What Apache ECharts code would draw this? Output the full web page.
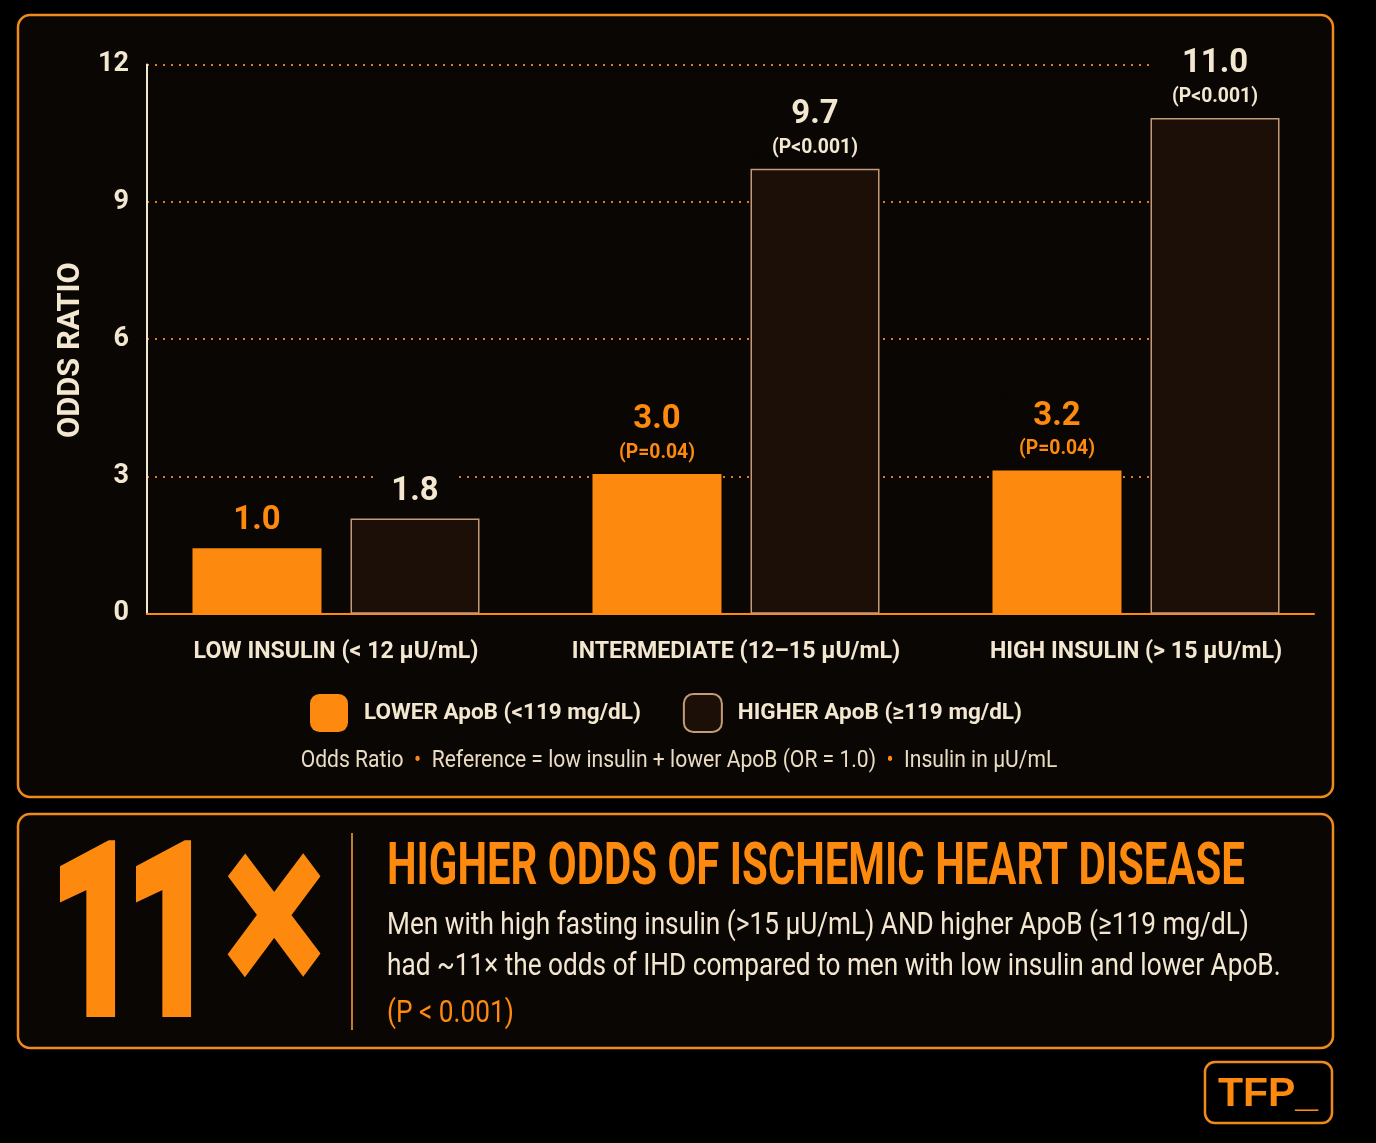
<!DOCTYPE html>
<html>
<head>
<meta charset="utf-8">
<script src="https://cdn.jsdelivr.net/npm/echarts@6/dist/echarts.min.js"></script>
<style>
  html, body { margin: 0; padding: 0; background: #000; }
  #chart { width: 1376px; height: 1143px; }
</style>
</head>
<body>
<div id="chart"></div>
<script>
// ---------- data ----------
const categories = ['LOW INSULIN (< 12 µU/mL)', 'INTERMEDIATE (12–15 µU/mL)', 'HIGH INSULIN (> 15 µU/mL)'];
const seriesNames = ['LOWER ApoB (<119 mg/dL)', 'HIGHER ApoB (≥119 mg/dL)'];
const lowerApoB = [1.43, 3.05, 3.13];      // bar heights as drawn
const higherApoB = [2.08, 9.72, 10.83];
const lowerLabels = ['1.0', '3.0', '3.2'];   // reported odds ratios
const higherLabels = ['1.8', '9.7', '11.0'];
const lowerP = ['', '(P=0.04)', '(P=0.04)'];
const higherP = ['', '(P<0.001)', '(P<0.001)'];
const yTicks = { min: 0, max: 12, interval: 3 };
const axisTitle = 'ODDS RATIO';
const footnote = ['Odds Ratio', 'Reference = low insulin + lower ApoB (OR = 1.0)', 'Insulin in µU/mL'];
const bigStat = ['1', '1', '×'];
const headline = 'HIGHER ODDS OF ISCHEMIC HEART DISEASE';
const bodyLines = ['Men with high fasting insulin (>15 µU/mL) AND higher ApoB (≥119 mg/dL)',
                   'had ~11× the odds of IHD compared to men with low insulin and lower ApoB.'];
const bodyP = '(P < 0.001)';
const brand = 'TFP_';

// ---------- styles ----------
const ORANGE = '#fd8a0e';
const CREAM = '#f3e7d0';
const DARK = '#1c0f07';
const PANEL = '#090604';
const FONT = "Roboto, 'Liberation Sans', sans-serif";
const SANS = "'Liberation Sans', Arial, sans-serif";

// size text to a target width using the installed font's metrics
const mctx = document.createElement('canvas').getContext('2d');
function fit(text, weight, family, target) {
  mctx.font = weight + ' 100px ' + family;
  return 100 * target / mctx.measureText(text).width;
}
const vSize = fit('9.7', 'bold', FONT, 43) * 1.1;
const pSize = fit('(P=0.04)', 'bold', FONT, 76);
const catSize = fit(categories[0], 'bold', FONT, 285);
const legSize = fit(seriesNames[0], 'bold', FONT, 277);
const nameSize = fit(axisTitle, 'bold', FONT, 176);
const tickSize = 27;
const footStr = footnote[0] + '  •  ' + footnote[1] + '  •  ' + footnote[2];
const footSize = fit(footStr, 'normal', FONT, 757);
const headSize = fit(headline, 'bold', FONT, 858);
const headScaleY = 42 / (headSize * 0.711);
const bodySize = fit(bodyLines[1], 'normal', FONT, 894);
const bodyScaleY = 1.2;

// big "1" glyph geometry
const ONE_STROKE = 10;
mctx.font = 'bold 100px ' + FONT;
const oneM = mctx.measureText('1');
const oneSize = (178 - ONE_STROKE) / oneM.actualBoundingBoxAscent * 100;
const oneW = (oneM.actualBoundingBoxLeft + oneM.actualBoundingBoxRight) * oneSize / 100;
const oneScaleX = (60 - ONE_STROKE) / oneW;
const oneShift = oneM.actualBoundingBoxLeft * oneSize / 100 * oneScaleX;

const chart = echarts.init(document.getElementById('chart'));

function labelFor(vals, ps, cls) {
  return function (p) {
    const v = vals[p.dataIndex], pl = ps[p.dataIndex];
    return pl ? '{v' + cls + '|' + v + '}\n{p' + cls + '|' + pl + '}' : '{s' + cls + '|' + v + '}';
  };
}
function vStyle(color, lh) { return { fontFamily: FONT, fontWeight: 'bold', fontSize: vSize, lineHeight: lh, color: color }; }
function pStyle(color) { return { fontFamily: FONT, fontWeight: 'bold', fontSize: pSize, lineHeight: 24, color: color }; }
const rich = {
  vo: vStyle(ORANGE, 42), vc: vStyle(CREAM, 42),
  so: vStyle(ORANGE, 36), sc: vStyle(CREAM, 36),
  po: pStyle(ORANGE), pc: pStyle(CREAM)
};
const baseLabel = { show: true, position: 'top', distance: 9, backgroundColor: PANEL, padding: [2, 18, 0, 18], rich: rich };

const gTop = 64.5, gH = 549.2;

const option = {
  backgroundColor: '#000',
  animation: false,
  grid: [
    { left: 136, right: 40, top: gTop, height: gH },
    { left: 147, right: 62, top: gTop, height: gH },
    { left: 147, right: 106, top: gTop, height: gH }
  ],
  xAxis: [
    { gridIndex: 0, type: 'category', data: categories,
      axisLine: { show: false }, axisTick: { show: false },
      axisLabel: { interval: 0, color: CREAM, fontFamily: FONT, fontWeight: 'bold', fontSize: catSize, lineHeight: 28, margin: 25 } },
    { gridIndex: 1, type: 'category', data: categories,
      axisLine: { show: true, lineStyle: { color: ORANGE, width: 2 } }, axisTick: { show: false }, axisLabel: { show: false } },
    { gridIndex: 2, type: 'category', data: categories, show: false }
  ],
  yAxis: [
    { gridIndex: 0, type: 'value', min: yTicks.min, max: yTicks.max, interval: yTicks.interval, show: false },
    { gridIndex: 1, type: 'value', min: yTicks.min, max: yTicks.max, interval: yTicks.interval,
      axisLine: { show: true, lineStyle: { color: CREAM, width: 2 } }, axisTick: { show: false },
      splitLine: { show: false },
      axisLabel: { color: CREAM, fontFamily: FONT, fontWeight: 'bold', fontSize: tickSize, margin: 18 },
      name: axisTitle, nameLocation: 'middle', nameRotate: 90, nameGap: 52,
      nameTextStyle: { color: CREAM, fontFamily: FONT, fontWeight: 'bold', fontSize: nameSize, padding: [0, 22, 0, 0] } },
    { gridIndex: 2, type: 'value', min: yTicks.min, max: yTicks.max, interval: yTicks.interval,
      axisLine: { show: false }, axisTick: { show: false }, axisLabel: { show: false },
      splitLine: { show: true, lineStyle: { color: '#e07d18', width: 2, type: [2, 6] } } }
  ],
  legend: {
    left: 305, top: 688, itemWidth: 38, itemHeight: 38, itemGap: 42, icon: 'roundRect',
    textStyle: { color: CREAM, fontFamily: FONT, fontWeight: 'bold', fontSize: legSize, padding: [0, 0, 0, 11] },
    data: seriesNames
  },
  series: [
    { name: seriesNames[0], type: 'bar', xAxisIndex: 0, yAxisIndex: 0, data: lowerApoB,
      barWidth: 129, barGap: '22.5%',
      itemStyle: { color: ORANGE },
      label: Object.assign({}, baseLabel, { formatter: labelFor(lowerLabels, lowerP, 'o') }) },
    { name: seriesNames[1], type: 'bar', xAxisIndex: 0, yAxisIndex: 0, data: higherApoB,
      barWidth: 129,
      itemStyle: { color: DARK, borderColor: '#c49b74', borderWidth: 1.5 },
      label: Object.assign({}, baseLabel, { formatter: labelFor(higherLabels, higherP, 'c') }) }
  ],
  graphic: [
    { type: 'rect', z: -10, shape: { x: 18, y: 15, width: 1315, height: 782, r: 12 },
      style: { fill: PANEL, stroke: '#f08a1c', lineWidth: 2.5 } },
    { type: 'rect', z: -10, shape: { x: 18, y: 814, width: 1315, height: 234, r: 12 },
      style: { fill: PANEL, stroke: '#f08a1c', lineWidth: 2.5 } },
    { type: 'rect', z: -10, shape: { x: 1205, y: 1062, width: 127, height: 61, r: 10 },
      style: { fill: '#000', stroke: '#f08a1c', lineWidth: 2.5 } },
    { type: 'text', x: 679, y: 758.5 + 0.09 * footSize * 1.13, scaleY: 1.13,
      style: { text: '{a|' + footnote[0] + '  }{b|•}{a|  ' + footnote[1] + '  }{b|•}{a|  ' + footnote[2] + '}',
        textAlign: 'center', textVerticalAlign: 'middle',
        rich: { a: { fontFamily: FONT, fontSize: footSize, fill: '#eadcc2', color: '#eadcc2' },
                b: { fontFamily: FONT, fontSize: footSize, fill: ORANGE, color: ORANGE } } } },
    // big stat
    { type: 'text', x: 58 + ONE_STROKE / 2 + oneShift, y: 933 + 0.09 * oneSize, scaleX: oneScaleX,
      style: { text: bigStat[0], font: 'bold ' + oneSize + 'px ' + FONT, fill: ORANGE, stroke: ORANGE, lineWidth: ONE_STROKE,
        textAlign: 'left', textVerticalAlign: 'middle' } },
    { type: 'text', x: 134 + ONE_STROKE / 2 + oneShift, y: 933 + 0.09 * oneSize, scaleX: oneScaleX,
      style: { text: bigStat[1], font: 'bold ' + oneSize + 'px ' + FONT, fill: ORANGE, stroke: ORANGE, lineWidth: ONE_STROKE,
        textAlign: 'left', textVerticalAlign: 'middle' } },
    { type: 'text', x: 274, y: 928, scaleX: 0.75,
      style: { text: bigStat[2], font: 'bold 225px ' + SANS, fill: ORANGE, stroke: ORANGE, lineWidth: 8,
        textAlign: 'center', textVerticalAlign: 'middle' } },
    { type: 'line', shape: { x1: 352, y1: 833, x2: 352, y2: 1030 }, style: { stroke: '#c47a26', lineWidth: 2 } },
    { type: 'text', x: 387, y: 864 + 0.09 * headSize * headScaleY, scaleY: headScaleY,
      style: { text: headline, font: 'bold ' + headSize + 'px ' + FONT, fill: ORANGE, textAlign: 'left', textVerticalAlign: 'middle' } },
    { type: 'text', x: 387, y: 923.5 + 0.09 * bodySize * bodyScaleY, scaleY: bodyScaleY,
      style: { text: bodyLines[0], font: bodySize + 'px ' + FONT, fill: CREAM, textAlign: 'left', textVerticalAlign: 'middle' } },
    { type: 'text', x: 387, y: 964 + 0.09 * bodySize * bodyScaleY, scaleY: bodyScaleY,
      style: { text: bodyLines[1], font: bodySize + 'px ' + FONT, fill: CREAM, textAlign: 'left', textVerticalAlign: 'middle' } },
    { type: 'text', x: 387, y: 1011 + 0.09 * bodySize * bodyScaleY, scaleY: bodyScaleY,
      style: { text: bodyP, font: bodySize + 'px ' + FONT, fill: ORANGE, textAlign: 'left', textVerticalAlign: 'middle' } },
    { type: 'text', x: 1268, y: 1095,
      style: { text: brand, font: 'bold 41px ' + SANS, fill: ORANGE, textAlign: 'center', textVerticalAlign: 'middle' } }
  ]
};
chart.setOption(option);
</script>
</body>
</html>
